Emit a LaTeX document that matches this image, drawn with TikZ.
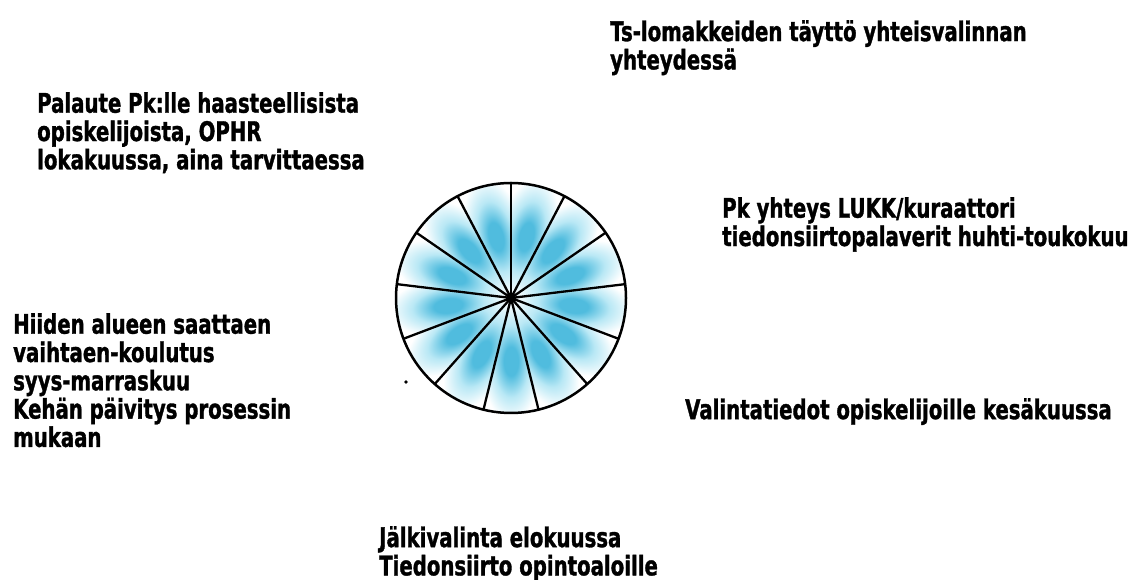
\documentclass[tikz,border=0pt]{standalone}
\usepackage{fontspec}
\usetikzlibrary{calc}
\newfontfamily\lblfont{DejaVu Sans}[FakeStretch=0.73, BoldFeatures={FakeBold=1.2}]
\definecolor{blobc}{RGB}{80,188,222}
\definecolor{blobl}{RGB}{185,232,245}
\pgfdeclareradialshading{blob}{\pgfpoint{0bp}{0bp}}{color(0bp)=(blobc); color(6bp)=(blobc); color(15bp)=(blobl); color(25bp)=(white); color(50bp)=(white)}
\tikzset{
  lbl/.style={anchor=north west, inner sep=0pt, align=left,
    font=\lblfont\bfseries\fontsize{27}{28.3}\selectfont},
  wheelline/.style={line width=2.3pt, black},
}
\begin{document}
\begin{tikzpicture}[x=1pt,y=1pt]
\useasboundingbox[fill=white] (0,0) rectangle (1129,580);
\def\R{115}
\coordinate (C) at (511,282);
% shaded sectors
\foreach \k in {0,...,12}{
  \pgfmathsetmacro\ma{90-(\k+0.5)*360/13}
  \pgfmathsetmacro\aa{\ma+180/13}
  \pgfmathsetmacro\ab{\ma-180/13}
  \begin{scope}
    \clip (C) -- ($(C)+(\aa:\R)$) arc[start angle=\aa, end angle=\ab, radius=\R] -- cycle;
    \coordinate (B\k) at ($(C)+(\ma:0.55*\R)$);
    \begin{scope}[transform canvas={shift={(B\k)}, rotate=\ma}]
      \shade[shading=blob] (0,0) ellipse[x radius=60, y radius=30];
    \end{scope}
  \end{scope}
}
% spokes
\foreach \k in {0,...,12}{
  \pgfmathsetmacro\sa{90-\k*360/13}
  \coordinate (S\k) at ($(C)+(\sa:\R)$);
  \draw[wheelline] (C) -- (S\k);
}
\draw[wheelline, line width=2.5pt] (C) circle[radius=\R];
\fill[black] (C) circle[radius=5];
\fill[black] (406,198) circle[radius=1.8];
% labels
\node[lbl] (ts) at (610,560) {Ts-lomakkeiden täyttö yhteisvalinnan\\yhteydessä};
\node[lbl] (pal) at (37,488) {Palaute Pk:lle haasteellisista\\opiskelijoista, OPHR\\lokakuussa, aina tarvittaessa};
\node[lbl] (pk) at (722,383) {Pk yhteys LUKK/kuraattori\\tiedonsiirtopalaverit huhti-toukokuu};
\node[lbl] (hii) at (13,267) {Hiiden alueen saattaen\\vaihtaen-koulutus\\syys-marraskuu\\Kehän päivitys prosessin\\mukaan};
\node[lbl] (val) at (685,182) {Valintatiedot opiskelijoille kesäkuussa};
\node[lbl] (jal) at (379,54) {Jälkivalinta elokuussa\\Tiedonsiirto opintoaloille};
\end{tikzpicture}
\end{document}
